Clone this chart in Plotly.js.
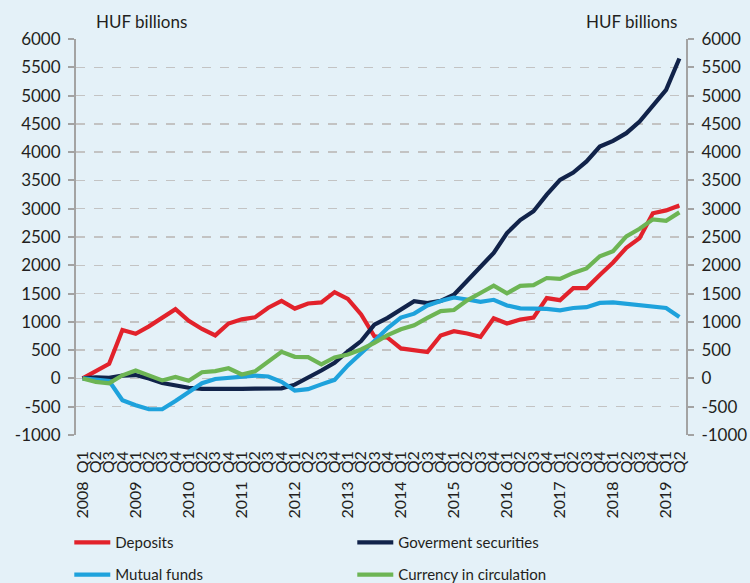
<!DOCTYPE html>
<html>
<head>
<meta charset="utf-8">
<script src="https://cdn.plot.ly/plotly-3.0.1.min.js"></script>
<style>
  html, body { margin: 0; padding: 0; background: #e4f1f8; }
  #chart { width: 750px; height: 583px; }
</style>
</head>
<body>
<div id="chart"></div>
<script>
// ---- Data (HUF billions, cumulative change since 2008 Q1) ----
var years = ['2008','2009','2010','2011','2012','2013','2014','2015','2016','2017','2018','2019'];
var quarterNames = ['Q1','Q2','Q3','Q4'];

var deposits = [0, 120, 260, 855, 790, 920, 1065, 1225, 1020, 875, 760, 970,
  1045, 1080, 1250, 1370, 1235, 1325, 1345, 1525, 1405, 1130, 745, 720,
  530, 500, 465, 758, 835, 794, 735, 1064, 970, 1040, 1076, 1420,
  1383, 1597, 1597, 1830, 2050, 2310, 2480, 2920, 2970, 3058];

var govSecurities = [0, 20, 10, 50, 60, 0, -80, -130, -165, -185, -190, -190,
  -185, -180, -180, -175, -110, 10, 140, 275, 480, 660, 950, 1070,
  1210, 1365, 1330, 1370, 1480, 1720, 1960, 2220, 2570, 2800, 2955, 3250,
  3510, 3640, 3835, 4100, 4200, 4335, 4540, 4830, 5100, 5655];

var mutualFunds = [0, -25, -45, -385, -475, -545, -545, -400, -235, -85, -10, 10,
  15, 50, 35, -60, -215, -190, -105, -25, 230, 440, 660, 890,
  1075, 1145, 1290, 1370, 1430, 1395, 1355, 1390, 1290, 1240, 1240, 1230,
  1205, 1245, 1260, 1335, 1345, 1320, 1300, 1275, 1245, 1085];

var currency = [0, -60, -85, 55, 140, 45, -35, 25, -40, 110, 130, 180,
  70, 125, 295, 470, 382, 376, 247, 370, 423, 512, 629, 765,
  870, 940, 1070, 1190, 1210, 1380, 1510, 1640, 1505, 1635, 1650, 1775,
  1760, 1865, 1945, 2160, 2248, 2512, 2645, 2812, 2785, 2935];

var yTickVals = [-1000,-500,0,500,1000,1500,2000,2500,3000,3500,4000,4500,5000,5500,6000];
var yTickText = ['-1000','-500','0','500','1000','1500','2000','2500','3000','3500','4000','4500','5000','5500','6000'];

var seriesNames = ['Deposits', 'Goverment securities', 'Mutual funds', 'Currency in circulation'];
var unitLabel = 'HUF billions';

// categories: 2008 Q1 ... 2019 Q2
var categories = [];
var tickText = [];
years.forEach(function (y) {
  quarterNames.forEach(function (q) {
    if (categories.length < deposits.length) {
      categories.push(y + ' ' + q);
      tickText.push(q === 'Q1' ? y + '\u00a0\u00a0' + q : q);
    }
  });
});

var FONT = 'Lato, "Open Sans", sans-serif';
var TXT = '#231f20';
var AX = '#a3a3a3';

function trace(name, vals, color, legend) {
  return {
    type: 'scatter', mode: 'lines', name: name,
    x: categories, y: vals,
    line: { color: color, width: 4.2 },
    legend: legend,
    hoverinfo: 'skip'
  };
}

var data = [
  trace(seriesNames[0], deposits, '#e2222b', 'legend'),
  trace(seriesNames[1], govSecurities, '#11234a', 'legend'),
  trace(seriesNames[2], mutualFunds, '#1ea2dc', 'legend2'),
  trace(seriesNames[3], currency, '#6db554', 'legend2')
];

var yCommon = {
  range: [-1000, 6000],
  tickmode: 'array', tickvals: yTickVals, ticktext: yTickText,
  showline: true, linecolor: AX, linewidth: 2,
  ticks: 'outside', ticklen: 6, tickwidth: 2, tickcolor: AX,
  zeroline: false,
  tickfont: { family: FONT, size: 17, color: TXT },
  fixedrange: true
};

var legendCommon = {
  orientation: 'h', x: -0.011, xanchor: 'left', yanchor: 'middle',
  entrywidth: 232, entrywidthmode: 'pixels', itemwidth: 36,
  bgcolor: 'rgba(0,0,0,0)', font: { family: FONT, size: 15, color: TXT },
  traceorder: 'normal'
};

var layout = {
  width: 750, height: 583,
  margin: { l: 76, r: 64, t: 39, b: 148, autoexpand: false },
  paper_bgcolor: '#e4f1f8',
  plot_bgcolor: '#e4f1f8',
  font: { family: FONT, color: TXT },
  showlegend: true,
  xaxis: {
    type: 'category',
    range: [-0.5, categories.length - 0.5],
    tickmode: 'array', tickvals: categories, ticktext: tickText,
    tickangle: -90,
    ticks: '', showline: false, showgrid: false, zeroline: false,
    ticklabelstandoff: 12,
    tickfont: { family: FONT, size: 16, color: TXT },
    fixedrange: true
  },
  xaxis2: {
    overlaying: 'x', anchor: 'free', position: 1 / 7, side: 'bottom',
    range: [-0.5, categories.length - 0.5],
    tickmode: 'linear', tick0: -0.5, dtick: 1,
    showticklabels: false, showgrid: false, zeroline: false,
    showline: true, linecolor: AX, linewidth: 2,
    ticks: 'outside', ticklen: 6, tickwidth: 2, tickcolor: AX,
    fixedrange: true
  },
  yaxis: Object.assign({}, yCommon, {
    showgrid: true, gridcolor: '#c3c3c3', griddash: 'dash', gridwidth: 1.5,
    ticklabelstandoff: 4
  }),
  yaxis2: Object.assign({}, yCommon, {
    overlaying: 'y', side: 'right', anchor: 'x', showgrid: false,
    ticklabelstandoff: 4
  }),
  legend: Object.assign({}, legendCommon, { y: -0.272 }),
  legend2: Object.assign({}, legendCommon, { y: -0.353 }),
  annotations: [
    { text: unitLabel, xref: 'paper', yref: 'paper', x: 0.107, y: 1.045,
      xanchor: 'center', yanchor: 'middle', showarrow: false,
      font: { family: FONT, size: 17, color: TXT } },
    { text: unitLabel, xref: 'paper', yref: 'paper', x: 0.910, y: 1.045,
      xanchor: 'center', yanchor: 'middle', showarrow: false,
      font: { family: FONT, size: 17, color: TXT } }
  ]
};

// an invisible trace keeps the right-hand axis active
data.push({ type: 'scatter', mode: 'lines', x: [categories[0]], y: [0], yaxis: 'y2',
  showlegend: false, hoverinfo: 'skip', line: { width: 0 }, opacity: 0 });

Plotly.newPlot('chart', data, layout, { displayModeBar: false, staticPlot: true });
</script>
</body>
</html>
